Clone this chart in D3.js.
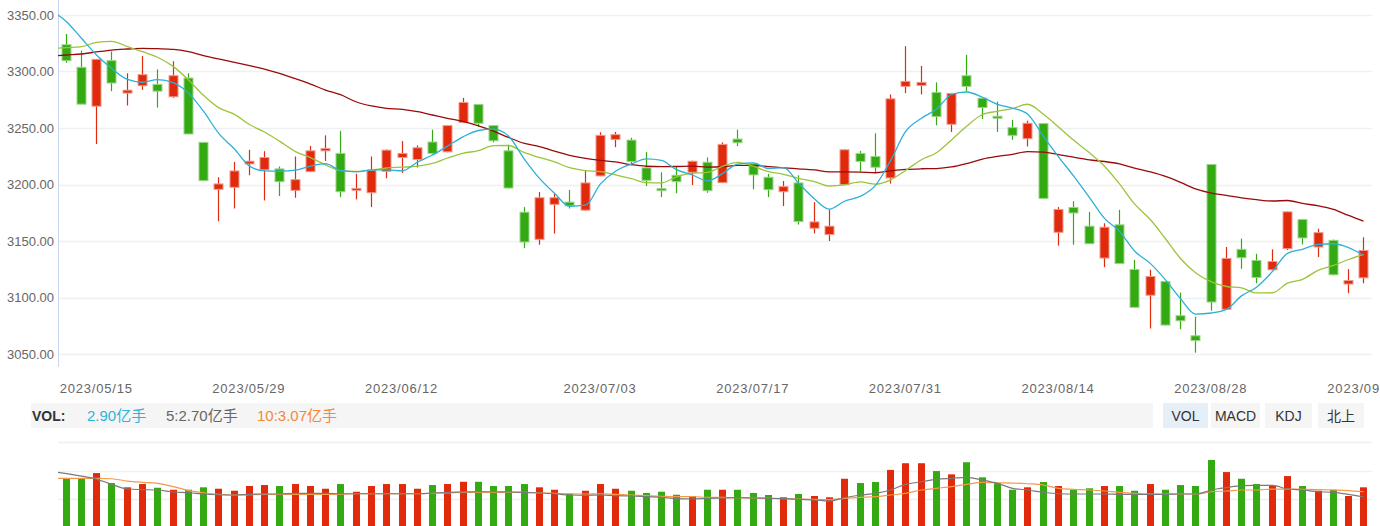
<!DOCTYPE html>
<html><head><meta charset="utf-8">
<script src="https://cdn.jsdelivr.net/npm/d3@7"></script>
<style>
body{margin:0;background:#fff;}
svg{display:block;font-family:"Liberation Sans","Noto Sans CJK SC",sans-serif;}
</style></head><body>
<svg id="c" width="1380" height="526"></svg>
<script>
const dates = ["2023/05/11","2023/05/12","2023/05/15","2023/05/16","2023/05/17","2023/05/18","2023/05/19","2023/05/22","2023/05/23","2023/05/24","2023/05/25","2023/05/26","2023/05/29","2023/05/30","2023/05/31",
"2023/06/01","2023/06/02","2023/06/05","2023/06/06","2023/06/07","2023/06/08","2023/06/09","2023/06/12","2023/06/13","2023/06/14","2023/06/15","2023/06/16","2023/06/19","2023/06/20","2023/06/21","2023/06/26","2023/06/27","2023/06/28","2023/06/29","2023/06/30",
"2023/07/03","2023/07/04","2023/07/05","2023/07/06","2023/07/07","2023/07/10","2023/07/11","2023/07/12","2023/07/13","2023/07/14","2023/07/17","2023/07/18","2023/07/19","2023/07/20","2023/07/21","2023/07/24","2023/07/25","2023/07/26","2023/07/27","2023/07/28","2023/07/31",
"2023/08/01","2023/08/02","2023/08/03","2023/08/04","2023/08/07","2023/08/08","2023/08/09","2023/08/10","2023/08/11","2023/08/14","2023/08/15","2023/08/16","2023/08/17","2023/08/18","2023/08/21","2023/08/22","2023/08/23","2023/08/24","2023/08/25","2023/08/28","2023/08/29","2023/08/30","2023/08/31",
"2023/09/01","2023/09/04","2023/09/05","2023/09/06","2023/09/07","2023/09/08","2023/09/11"];

const openP = [3323.7,3303.7,3269.3,3309.6,3280.9,3287.4,3288.6,3277.6,3294.2,3237.3,3195.7,3197.5,3218.2,3213.0,3213.8,3194.8,3211.4,3229.8,3227.5,3195.4,3192.7,3211.7,3223.9,3222.1,3237.6,3228.9,3254.8,3270.8,3252.1,3229.8,3175.5,3151.5,3182.4,3184.4,3177.3,3207.6,3239.9,3239.3,3214.7,3196.3,3208.2,3210.8,3219.7,3201.6,3240.2,3218.3,3206.4,3193.6,3201.4,3161.3,3155.7,3199.9,3227.5,3224.8,3205.8,3286.8,3287.7,3281.5,3253.3,3296.3,3276.4,3260.4,3250.3,3240.5,3253.9,3157.7,3179.7,3163.1,3134.9,3164.3,3124.8,3102.0,3114.1,3083.9,3066.1,3217.7,3089.6,3142.6,3132.8,3124.5,3143.2,3169.0,3144.7,3150.6,3111.9,3117.4];
const closeP = [3309.6,3271.1,3310.8,3289.8,3283.5,3297.2,3282.6,3296.3,3244.7,3203.4,3200.5,3212.0,3220.6,3223.9,3202.5,3204.3,3229.8,3231.9,3193.6,3196.6,3212.6,3230.4,3227.5,3232.5,3227.5,3252.1,3272.6,3254.2,3238.7,3196.9,3149.1,3188.3,3188.3,3181.2,3201.4,3243.5,3244.1,3220.4,3203.7,3194.8,3202.5,3220.6,3194.5,3235.5,3237.0,3208.5,3195.4,3198.1,3167.2,3166.9,3163.1,3230.7,3220.4,3215.3,3275.8,3291.3,3290.4,3260.1,3280.6,3286.8,3268.1,3259.2,3243.5,3254.2,3187.7,3177.9,3174.8,3147.6,3162.2,3130.1,3091.3,3118.6,3075.6,3079.4,3061.9,3096.0,3134.6,3135.2,3117.7,3131.9,3175.8,3152.7,3157.4,3120.1,3115.0,3141.7];
const highP = [3333.2,3318.5,3311.0,3317.7,3298.4,3313.8,3301.9,3309.1,3298.4,3237.3,3206.4,3220.0,3230.7,3229.5,3215.9,3224.8,3234.0,3243.5,3247.3,3209.4,3224.8,3231.0,3238.4,3234.6,3248.5,3252.5,3276.7,3271.0,3252.5,3235.2,3180.0,3193.3,3191.9,3195.1,3212.0,3246.2,3246.5,3241.4,3228.7,3210.8,3216.2,3221.0,3223.9,3237.3,3248.5,3218.6,3209.4,3203.1,3208.2,3184.4,3177.9,3231.0,3229.8,3245.3,3279.7,3322.4,3304.9,3290.4,3281.0,3314.7,3276.7,3273.4,3257.1,3256.5,3254.2,3180.0,3185.2,3175.8,3165.7,3177.6,3133.4,3124.5,3114.4,3104.3,3083.0,3218.0,3144.7,3152.1,3138.7,3142.6,3176.1,3169.3,3160.9,3151.2,3125.1,3153.3];
const lowP = [3307.8,3271.1,3235.8,3282.6,3269.9,3283.8,3268.1,3276.7,3244.7,3203.4,3167.5,3178.8,3208.2,3185.9,3189.8,3188.3,3211.0,3220.9,3188.9,3186.8,3180.0,3205.5,3210.3,3215.0,3226.3,3228.5,3254.5,3251.2,3237.3,3196.5,3143.6,3146.7,3156.6,3178.8,3177.0,3207.3,3233.1,3217.0,3198.7,3188.9,3192.2,3199.6,3192.7,3201.3,3234.0,3195.7,3188.9,3180.9,3164.6,3156.7,3149.9,3199.6,3211.6,3210.6,3200.8,3280.9,3279.7,3252.4,3246.5,3282.4,3258.0,3246.5,3239.6,3233.7,3187.4,3145.9,3146.7,3147.3,3126.9,3129.8,3091.0,3072.6,3075.3,3071.9,3051.2,3088.3,3089.3,3125.4,3112.6,3124.2,3142.0,3147.0,3135.8,3119.6,3103.8,3112.6];

// moving-average values read off the chart where the window starts before the visible range
// (first entry = the day before the first visible candle, only its line segment is visible)
const ma5Head = [3354.0,3344.1,3329.4,3314.6,3302.8];
const ma10Head = [3320.3,3321.1,3322.0,3325.8,3326.7,3322.0,3317.5,3312.6,3304.3,3292.5];
const ma30Head = [3313.6,3314.6,3315.5,3317.3,3319.0,3319.9,3320.5,3320.2,3319.6,3317.5,3314.0,3311.1,3308.1,3305.1,3302.2,3298.4,3293.6,3288.9,3283.6,3279.5,3273.0,3269.5,3267.4,3266.5,3264.4,3261.5,3258.6,3255.6,3251.8,3247.3];

// volume in 亿手
const volume = [3.45,3.45,3.82,3.12,2.82,3.05,2.79,2.65,2.65,2.82,2.72,2.58,2.91,2.98,2.91,3.05,2.91,2.72,3.05,2.51,2.91,3.05,3.05,2.72,2.98,3.05,3.21,3.21,2.91,2.91,3.05,2.82,2.65,2.37,2.58,3.05,2.72,2.58,2.42,2.51,2.30,2.21,2.65,2.65,2.65,2.42,2.28,2.12,2.35,2.21,2.12,3.42,3.12,3.19,4.04,4.51,4.51,3.96,3.73,4.58,3.52,3.12,2.65,2.82,3.19,2.91,2.65,2.75,2.91,2.91,2.58,3.05,2.65,2.98,2.91,4.74,3.89,3.42,3.05,2.91,3.61,2.91,2.58,2.65,2.21,2.82];
// volume moving averages (first entry = previous day)
const volMa5 = [3.95,3.78,3.61,3.40,3.03,2.70,2.66,2.63,2.49,2.44,2.35,2.30,2.28,2.33,2.35,2.35,2.40,2.40,2.40,2.37,2.37,2.37,2.37,2.37,2.37,2.42,2.47,2.49,2.51,2.51,2.49,2.47,2.42,2.37,2.28,2.26,2.28,2.23,2.21,2.16,2.12,2.02,2.00,2.05,2.07,2.09,2.07,2.05,2.02,1.98,1.93,1.86,2.09,2.28,2.40,2.63,3.03,3.21,3.38,3.45,3.52,3.33,3.10,2.75,2.63,2.47,2.37,2.35,2.35,2.35,2.33,2.33,2.33,2.33,2.35,2.35,2.63,2.80,2.94,2.96,2.96,2.70,2.63,2.51,2.47,2.33,2.16];
const volMa10 = [3.45,3.45,3.45,3.45,3.42,3.26,3.17,3.10,2.87,2.59,2.44,2.33,2.28,2.30,2.33,2.33,2.33,2.33,2.33,2.33,2.37,2.37,2.37,2.37,2.37,2.40,2.42,2.47,2.47,2.47,2.47,2.47,2.42,2.40,2.37,2.35,2.37,2.33,2.28,2.23,2.19,2.16,2.16,2.12,2.12,2.09,2.07,2.05,2.02,2.00,1.98,1.95,2.05,2.12,2.16,2.28,2.40,2.63,2.75,2.87,3.03,3.17,3.14,3.12,3.07,2.98,2.75,2.68,2.63,2.56,2.47,2.40,2.35,2.35,2.35,2.35,2.51,2.56,2.63,2.63,2.70,2.70,2.68,2.66,2.63,2.59,2.51];

const yTicks = [3050,3100,3150,3200,3250,3300,3350];
const xTickDates = ["2023/05/15","2023/05/29","2023/06/12","2023/07/03","2023/07/17","2023/07/31","2023/08/14","2023/08/28","2023/09/11"];
const volTicks = [2,4,6];
const legendTexts = [["VOL:","#333",true],["2.90亿手","#2fb3d8",false],["5:2.70亿手","#666",false],["10:3.07亿手","#f08a3a",false]];
const tabs = ["VOL","MACD","KDJ","北上"];

const RED="#e02a0b", GREEN="#33aa11", RED_L="#f19a8c", GREEN_L="#9bd58a";

// head[k] is the value for day k-1 (k=0 is the day before the first visible one)
function movingAvg(arr, n, head){
  const vals = arr.map((_, i) => i < n-1 ? head[i+1] : d3.mean(arr.slice(i-n+1, i+1)));
  return [head[0]].concat(vals);
}
const ma5 = movingAvg(closeP,5,ma5Head);
const ma10 = movingAvg(closeP,10,ma10Head);
const ma30 = movingAvg(closeP,30,ma30Head);

const svg = d3.select("#c");
const L=58, R=1371;
const x = d3.scaleBand().domain(dates).range([L,R]).padding(0);
const cx = d => Math.round(x(d)+x.bandwidth()/2);
const cxs = k => k===0 ? cx(dates[0]) - x.step() : cx(dates[k-1]);
const y = d3.scaleLinear().domain([3050,3350]).range([354,15]);
const yv = d3.scaleLinear().domain([0,6]).range([527.5,442]);

const defs = svg.append("defs");
defs.append("clipPath").attr("id","cp").append("rect").attr("x",L).attr("y",0).attr("width",R-L+2).attr("height",367);
defs.append("clipPath").attr("id","cv").append("rect").attr("x",L).attr("y",436).attr("width",R-L+2).attr("height",90);

// grid
svg.append("g").selectAll("line").data(yTicks).join("line")
  .attr("x1",L).attr("x2",R+1).attr("y1",d=>Math.round(y(d))+0.5).attr("y2",d=>Math.round(y(d))+0.5)
  .attr("stroke","#edf0f4").attr("stroke-width",1.5);
svg.append("g").selectAll("line").data(volTicks).join("line")
  .attr("x1",L).attr("x2",R+1).attr("y1",d=>Math.round(yv(d))+0.5).attr("y2",d=>Math.round(yv(d))+0.5)
  .attr("stroke","#edf0f4").attr("stroke-width",1.5);

// y axis
const ya = svg.append("g").attr("transform",`translate(${L},0)`)
  .call(d3.axisLeft(y).tickValues(yTicks).tickFormat(d3.format(".2f")).tickSize(0).tickPadding(4));
ya.select(".domain").remove();
ya.selectAll("text").attr("fill","#666").attr("font-size",13).attr("font-family","Liberation Sans, sans-serif");
svg.append("line").attr("x1",L+0.5).attr("x2",L+0.5).attr("y1",0).attr("y2",367).attr("stroke","#c9d6f0").attr("stroke-width",1);

// x axis
const xa = svg.append("g").attr("transform","translate(0,367)")
  .call(d3.axisBottom(x).tickValues(xTickDates).tickSize(0).tickPadding(17));
xa.select(".domain").remove();
xa.selectAll("text").attr("fill","#666").attr("font-size",13).attr("letter-spacing","0.8px");

// candles
const idx = d3.range(dates.length);
const up = i => closeP[i] >= openP[i];
const cg = svg.append("g").attr("clip-path","url(#cp)");
cg.selectAll("line.w").data(idx).join("line").attr("class","w")
  .attr("x1",i=>cx(dates[i])+0.5).attr("x2",i=>cx(dates[i])+0.5)
  .attr("y1",i=>y(highP[i])).attr("y2",i=>y(lowP[i]))
  .attr("stroke",i=>up(i)?RED:GREEN).attr("stroke-width",1.2);
cg.selectAll("rect.b").data(idx).join("rect").attr("class","b")
  .attr("x",i=>cx(dates[i])-4).attr("width",9)
  .attr("y",i=>y(Math.max(openP[i],closeP[i])))
  .attr("height",i=>Math.max(2,Math.abs(y(openP[i])-y(closeP[i]))))
  .attr("fill",i=>up(i)?RED:GREEN)
  .attr("stroke",i=>up(i)?RED_L:GREEN_L).attr("stroke-width",1);

// MA lines
const line = d3.line().x((d,k)=>cxs(k)+0.5).y(d=>y(d)).curve(d3.curveMonotoneX);
[[ma30,"#9a0a0a"],[ma10,"#9cc43a"],[ma5,"#2bb0d8"]].forEach(([arr,col])=>{
  cg.append("path").attr("d",line(arr)).attr("fill","none").attr("stroke",col).attr("stroke-width",1.3);
});

// legend bar
svg.append("rect").attr("x",31).attr("y",403).attr("width",1122).attr("height",25).attr("fill","#f5f5f5");
const legendX = [32,87,166,257];
legendTexts.forEach((t,k)=>{
  svg.append("text").attr("x",legendX[k]).attr("y",421).text(t[0]).attr("fill",t[1])
    .attr("font-size",t[2]?14:15).attr("font-weight",t[2]?"bold":"normal")
    .attr("font-family","Liberation Sans, Noto Sans CJK SC, sans-serif");
});
const tabX = [1163,1211,1265,1318], tabW=[45,49,47,46];
tabs.forEach((t,k)=>{
  svg.append("rect").attr("x",tabX[k]).attr("y",403).attr("width",tabW[k]).attr("height",25)
    .attr("fill",k===0?"#e6eef8":"#f5f5f5");
  svg.append("text").attr("x",tabX[k]+tabW[k]/2).attr("y",421).attr("text-anchor","middle")
    .text(t).attr("fill","#333").attr("font-size",14).attr("font-family","Liberation Sans, Noto Sans CJK SC, sans-serif");
});

// volume bars
const vg = svg.append("g").attr("clip-path","url(#cv)");
vg.selectAll("rect").data(idx).join("rect")
  .attr("x",i=>cx(dates[i])-3).attr("width",7)
  .attr("y",i=>yv(volume[i])).attr("height",i=>yv(0)-yv(volume[i]))
  .attr("fill",i=>up(i)?RED:GREEN);
const vline = d3.line().x((d,k)=>cxs(k)+0.5).y(d=>yv(d)).curve(d3.curveMonotoneX);
vg.append("path").attr("d",vline(volMa10)).attr("fill","none").attr("stroke","#f39a4a").attr("stroke-width",1.2);
vg.append("path").attr("d",vline(volMa5)).attr("fill","none").attr("stroke","#7a7a7a").attr("stroke-width",1.2);
</script>
</body></html>
